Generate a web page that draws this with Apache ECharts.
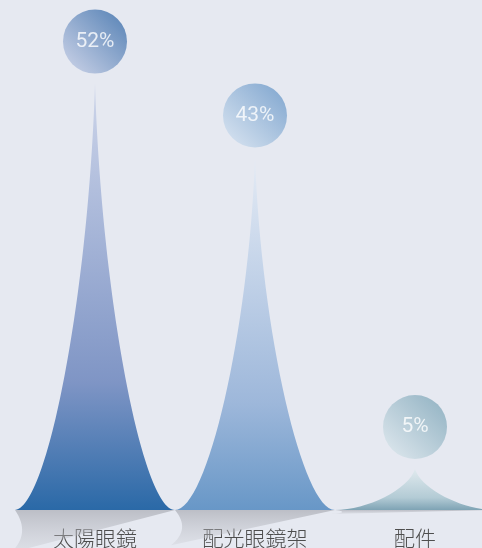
<!DOCTYPE html>
<html><head><meta charset="utf-8">
<script src="https://cdn.jsdelivr.net/npm/echarts@6/dist/echarts.min.js"></script>
<style>html,body{margin:0;padding:0;background:#e6e9f1;} #c{width:482px;height:548px;}</style>
</head><body><div id="c"></div>
<script>
const categories = ['太陽眼鏡', '配光眼鏡架', '配件'];
const values = [52, 43, 5];
const percentLabels = ['52%', '43%', '5%'];
const barTopColors = ['#cdd5ea', '#e4ebf5', '#e0eaee'];
const barMidColors = ['#7f95c5', '#9db7da', '#b3cbd5'];
const barBottomColors = ['#2a69a7', '#6897c7', '#7ea3b4'];
const circleLightColors = ['#c9d0e7', '#d9e5f2', '#e0eaef'];
const circleDarkColors = ['#2f66a5', '#6393c5', '#79a2b5'];

const G = echarts.graphic;
const chart = echarts.init(document.getElementById('c'), null, {renderer: 'canvas'});

const mountain = 'path://M0,10 L10,10 C8,10 5.4,5 5,0 C4.6,5 2,10 0,10 Z';

chart.setOption({
  backgroundColor: '#e6e9f1',
  animation: false,
  grid: {left: 15, width: 480, top: 18, bottom: 38, containLabel: false, outerBoundsMode: 'none'},
  xAxis: {
    type: 'category',
    data: categories,
    axisLine: {show: false},
    axisTick: {show: false},
    axisLabel: {fontSize: 21, fontWeight: 300, color: '#4e4e4e', margin: 18, fontFamily: '"Noto Sans CJK TC", sans-serif'}
  },
  yAxis: {type: 'value', min: 0, max: 60, show: false, splitLine: {show: false}},
  series: [
    {
      type: 'custom',
      z: 1,
      data: values.map((v, i) => [i, v]),
      encode: {x: 0, y: 1},
      renderItem: function (params, api) {
        const i = api.value(0), v = api.value(1);
        const base = api.coord([i, 0]);
        const top = api.coord([i, v]);
        const w = api.size([1, 0])[0];
        const xL = base[0] - w / 2, y0 = base[1];
        const d = (y0 - top[1]) * 0.1;
        const pts = [];
        const p0 = [xL, y0], p1 = [xL + 16, y0 + d * 0.55], p2 = [xL - 4, y0 + d];
        for (let k = 0; k <= 16; k++) {
          const t = k / 16;
          pts.push([
            (1 - t) * (1 - t) * p0[0] + 2 * (1 - t) * t * p1[0] + t * t * p2[0],
            (1 - t) * (1 - t) * p0[1] + 2 * (1 - t) * t * p1[1] + t * t * p2[1]
          ]);
        }
        pts.push([xL + w, y0]);
        return {
          type: 'polygon',
          shape: {points: pts},
          style: {
            fill: new G.LinearGradient(0, 0, 0, 1, [
              {offset: 0, color: 'rgba(160,162,170,0.6)'},
              {offset: 1, color: 'rgba(200,202,208,0.3)'}
            ])
          }
        };
      }
    },
    {
      type: 'pictorialBar',
      z: 2,
      barCategoryGap: '0%',
      symbol: mountain,
      data: values.map((v, i) => ({
        value: v,
        itemStyle: {
          color: new G.LinearGradient(0, 0, 0, 1, [
            {offset: 0, color: barTopColors[i]},
            {offset: 0.7, color: barMidColors[i]},
            {offset: 1, color: barBottomColors[i]}
          ])
        }
      }))
    },
    {
      type: 'scatter',
      z: 3,
      symbol: 'circle',
      symbolSize: 64,
      symbolOffset: [0, -42],
      data: values.map((v, i) => ({
        value: v,
        itemStyle: {
          color: new G.LinearGradient(0, 1, 1, 0, [
            {offset: 0, color: circleLightColors[i]},
            {offset: 1, color: circleDarkColors[i]}
          ])
        },
        label: {formatter: percentLabels[i]}
      })),
      label: {
        show: true,
        position: 'inside',
        color: '#ffffff',
        fontSize: 21,
        fontWeight: 'normal',
        fontFamily: 'Roboto, sans-serif'
      }
    }
  ]
});
</script></body></html>
